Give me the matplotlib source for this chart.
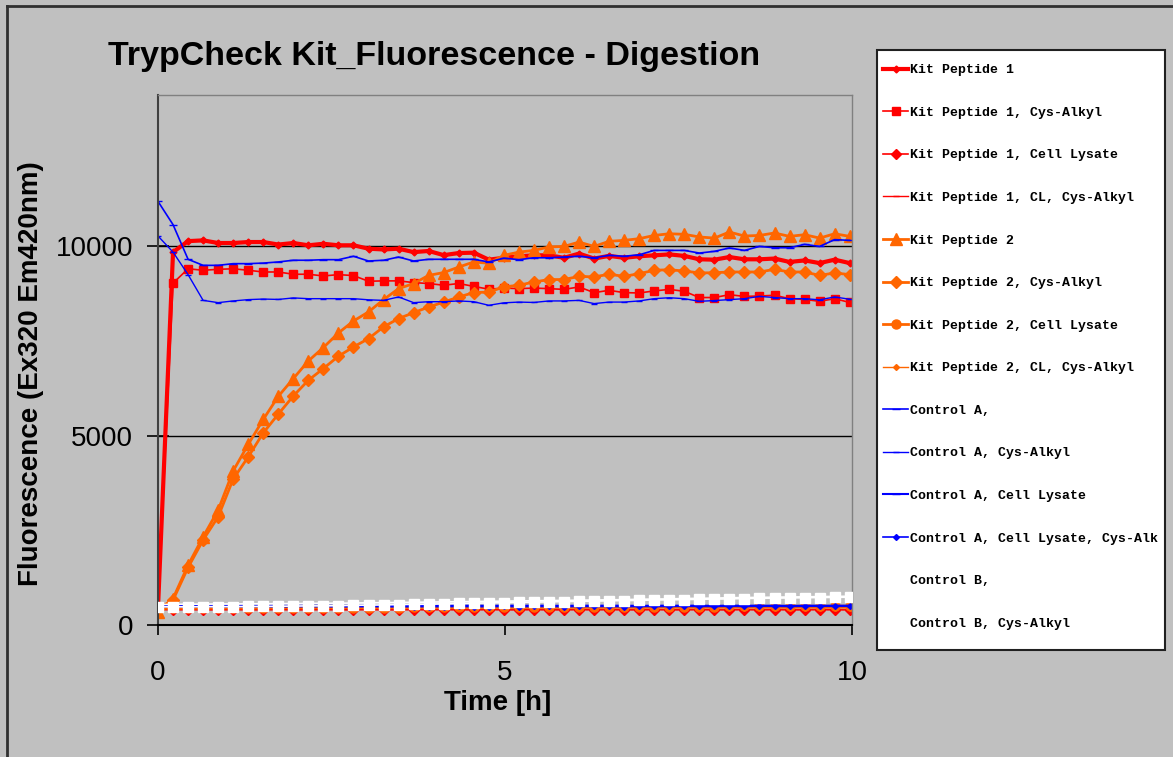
import matplotlib
matplotlib.use('Agg')
import matplotlib.pyplot as plt
from matplotlib.lines import Line2D
from matplotlib.patches import Rectangle
import numpy as np

#------------------------------------- DATOS ------------------------------------
# tiempo de muestreo en minutos (lectura cada ~13 min)
minutos = [0, 13, 26, 39, 52, 65, 78, 91, 104, 117, 130, 143, 156, 169, 182, 195,
           208, 221, 234, 247, 260, 273, 286, 299, 312, 325, 338, 351, 364, 377,
           390, 403, 416, 429, 442, 455, 468, 481, 494, 507, 520, 533, 546, 559,
           572, 585, 598]

kit_p1 = [450, 9850, 10140, 10160, 10090, 10090, 10116, 10116, 10050, 10090, 10030, 10070,
          10030, 10030, 9940, 9920, 9940, 9850, 9880, 9770, 9825, 9835, 9650, 9700, 9740,
          9765, 9765, 9700, 9810, 9680, 9750, 9700, 9740, 9765, 9790, 9750, 9660, 9650,
          9720, 9660, 9660, 9680, 9590, 9630, 9560, 9650, 9560]
kit_p1_cys = [450, 9030, 9410, 9370, 9395, 9410, 9370, 9325, 9325, 9265, 9265, 9220, 9255,
              9230, 9080, 9090, 9090, 9045, 9020, 8975, 9020, 8945, 8870, 8900, 8885, 8900,
              8885, 8865, 8930, 8780, 8840, 8780, 8770, 8825, 8865, 8815, 8650, 8650, 8725,
              8680, 8690, 8710, 8620, 8600, 8550, 8620, 8520]
kit_p1_cl = [410, 400, 405, 400, 400, 405, 400, 400, 405, 400, 400, 405, 400, 400, 405, 400,
             400, 405, 400, 405, 400, 400, 405, 400, 400, 405, 400, 400, 405, 400, 405, 400,
             400, 405, 400, 400, 405, 400, 400, 405, 400, 405, 400, 400, 405, 400, 400]
kit_p1_cl_cys = [460, 465, 460, 465, 465, 460, 465, 465, 460, 465, 465, 460, 465, 465, 460,
                 465, 465, 460, 465, 465, 460, 465, 465, 460, 465, 465, 460, 465, 465, 460,
                 465, 465, 460, 465, 465, 460, 465, 465, 460, 465, 465, 460, 465, 465, 460,
                 465, 465]
kit_p2 = [350, 700, 1580, 2330, 3035, 4070, 4770, 5430, 6040, 6510, 6975, 7330, 7715, 8030,
          8270, 8595, 8885, 9020, 9235, 9310, 9455, 9590, 9555, 9765, 9850, 9895, 9985, 10000,
          10115, 10000, 10135, 10160, 10205, 10290, 10335, 10320, 10250, 10220, 10380, 10275,
          10290, 10355, 10265, 10310, 10220, 10335, 10265]
kit_p2_cys = [430, 660, 1520, 2245, 2860, 3855, 4440, 5075, 5570, 6050, 6465, 6775, 7100,
              7345, 7565, 7875, 8095, 8250, 8400, 8530, 8665, 8780, 8795, 8930, 8975, 9060,
              9125, 9125, 9210, 9195, 9265, 9210, 9280, 9370, 9385, 9350, 9300, 9305, 9325,
              9325, 9325, 9395, 9325, 9325, 9235, 9300, 9255]
kit_p2_cl = [440, 445, 445, 445, 450, 450, 450, 450, 455, 455, 455, 455, 460, 460, 460, 460,
             460, 465, 465, 465, 465, 470, 470, 470, 470, 470, 475, 475, 475, 475, 480, 480,
             480, 480, 485, 485, 485, 485, 490, 490, 490, 490, 495, 495, 495, 495, 500]
kit_p2_cl_cys = [450, 455, 450, 455, 455, 450, 455, 450, 455, 455, 450, 455, 450, 455, 455,
                 450, 455, 450, 455, 455, 450, 455, 450, 455, 455, 450, 455, 450, 455, 455,
                 450, 455, 450, 455, 455, 450, 455, 450, 455, 455, 450, 455, 450, 455, 455,
                 450, 455]
ctrl_a = [11190, 10575, 9660, 9500, 9500, 9545, 9545, 9560, 9590, 9635, 9635, 9650, 9650,
          9740, 9615, 9635, 9720, 9615, 9660, 9660, 9660, 9660, 9590, 9690, 9650, 9700, 9700,
          9720, 9740, 9700, 9765, 9740, 9780, 9895, 9895, 9895, 9825, 9870, 9960, 9895, 10000,
          9965, 9965, 10055, 10000, 10180, 10160]
ctrl_a_cys = [10275, 9850, 9255, 8575, 8515, 8560, 8595, 8610, 8600, 8640, 8620, 8620, 8620,
              8620, 8590, 8575, 8665, 8515, 8540, 8540, 8560, 8540, 8445, 8510, 8530, 8520,
              8560, 8560, 8575, 8490, 8530, 8530, 8560, 8620, 8645, 8620, 8550, 8570, 8595,
              8620, 8680, 8650, 8620, 8620, 8590, 8665, 8605]
ctrl_a_cl = [500, 505, 505, 510, 505, 510, 510, 505, 510, 510, 510, 510, 505, 510, 510, 510,
             510, 505, 510, 510, 510, 510, 505, 510, 510, 510, 510, 505, 510, 510, 510, 510,
             505, 510, 510, 510, 510, 505, 510, 510, 510, 510, 505, 510, 510, 510, 510]
ctrl_a_cl_cys = [480, 485, 480, 485, 485, 480, 485, 485, 480, 485, 485, 485, 480, 485, 485,
                 485, 480, 485, 485, 485, 490, 485, 485, 490, 485, 490, 490, 485, 490, 490,
                 490, 485, 490, 490, 490, 495, 490, 490, 495, 490, 495, 495, 490, 495, 495,
                 495, 495]
ctrl_b = [480, 480, 480, 485, 485, 485, 490, 490, 495, 500, 505, 505, 510, 520, 525, 530, 540,
          545, 550, 560, 570, 575, 585, 590, 600, 605, 610, 620, 625, 630, 640, 645, 650, 660,
          665, 670, 680, 685, 690, 700, 705, 710, 715, 720, 725, 730, 735]
ctrl_b_cys = [540, 545, 550, 550, 555, 555, 560, 560, 565, 565, 570, 575, 575, 580, 585, 590,
              595, 600, 605, 610, 615, 620, 625, 630, 635, 640, 645, 650, 655, 660, 665, 670,
              680, 685, 690, 700, 705, 710, 720, 725, 730, 735, 740, 745, 750, 755, 760]

horas = np.array(minutos) / 60.0

ROJO = '#ff0000'
NARANJA = '#ff6600'
AZUL = '#0000ff'
GRIS = '#c0c0c0'

# (etiqueta, datos, color, grosor, marcador, tamaño, zorder)
series = [
    ('Kit Peptide 1', kit_p1, ROJO, 3.0, 'D', 3.5, 2),
    ('Kit Peptide 1, Cys-Alkyl', kit_p1_cys, ROJO, 1.2, 's', 6, 2),
    ('Kit Peptide 1, Cell Lysate', kit_p1_cl, ROJO, 1.2, 'D', 5, 2),
    ('Kit Peptide 1, CL, Cys-Alkyl', kit_p1_cl_cys, ROJO, 1.0, '_', 4, 2),
    ('Kit Peptide 2', kit_p2, NARANJA, 2.0, '^', 8, 2),
    ('Kit Peptide 2, Cys-Alkyl', kit_p2_cys, NARANJA, 2.0, 'D', 6, 2),
    ('Kit Peptide 2, Cell Lysate', kit_p2_cl, NARANJA, 2.0, 'o', 6.5, 2),
    ('Kit Peptide 2, CL, Cys-Alkyl', kit_p2_cl_cys, NARANJA, 1.0, 'D', 3, 2),
    ('Control A,', ctrl_a, AZUL, 1.2, '_', 6, 2),
    ('Control A, Cys-Alkyl', ctrl_a_cys, AZUL, 1.0, '_', 4, 2),
    ('Control A, Cell Lysate', ctrl_a_cl, AZUL, 1.5, '_', 6, 2),
    ('Control A, Cell Lysate, Cys-Alk', ctrl_a_cl_cys, AZUL, 1.2, 'D', 3, 2),
    ('Control B,', ctrl_b, 'white', 1.2, 's', 6.5, 4),
    ('Control B, Cys-Alkyl', ctrl_b_cys, 'white', 1.2, 'None', 0, 3),
]

#------------------------------------- FIGURA ------------------------------------
plt.rcParams['font.family'] = ['Liberation Sans', 'DejaVu Sans']

fig = plt.figure(figsize=(11.73, 7.57), dpi=100, facecolor=GRIS)
ax = fig.add_axes([158/1173, 1 - 625/757, 694/1173, 530/757])
ax.set_facecolor(GRIS)

lineas = []
for etiqueta, datos, color, lw, marcador, ms, z in series:
    l, = ax.plot(horas, datos, color=color, lw=lw, marker=marcador, ms=ms,
                 mfc=color, mec=color, label=etiqueta, zorder=z)
    lineas.append(l)

ax.set_xlim(0, 10)
ax.set_ylim(0, 14000)
ax.set_xticks([0, 5, 10])
ax.set_yticks([0, 5000, 10000])
ax.grid(axis='y', color='black', lw=1.0)
ax.set_axisbelow(True)

ax.tick_params(axis='y', direction='inout', length=16, width=1.2, pad=10,
               labelsize=20, colors='black')
ax.tick_params(axis='x', direction='out', length=7, width=1.2, pad=18,
               labelsize=20, colors='black')

for lado in ['top', 'right']:
    ax.spines[lado].set_color('#808080')
    ax.spines[lado].set_linewidth(1.0)
ax.spines['left'].set_color('#404040')
ax.spines['left'].set_linewidth(1.5)
ax.spines['bottom'].set_color('black')
ax.spines['bottom'].set_linewidth(1.5)

ax.set_xlabel('Time [h]', fontsize=20, fontweight='bold', labelpad=0)
ax.set_ylabel('Fluorescence (Ex320 Em420nm)', fontsize=20, fontweight='bold')
ax.yaxis.set_label_coords(-114/694, 0.475)
ax.xaxis.set_label_coords(0.49, -65/530)

fig.text(434/1173, 1 - 57/757, 'TrypCheck Kit_Fluorescence - Digestion',
         ha='center', va='center', fontsize=24.5, fontweight='bold')

# marco exterior (solo izquierda y arriba visibles en el recorte)
fig.add_artist(Line2D([7/1173, 7/1173], [0, 1 - 6/757], color='#303030', lw=2,
                      transform=fig.transFigure))
fig.add_artist(Line2D([7/1173, 1], [1 - 6/757, 1 - 6/757], color='#303030', lw=2,
                      transform=fig.transFigure))

# caja de la leyenda
fig.add_artist(Rectangle((877/1173, 1 - 650/757), 288/1173, 600/757,
                         transform=fig.transFigure, facecolor='white',
                         edgecolor='#202020', lw=1.5, zorder=1))

leg = fig.legend(handles=lineas, loc='upper left', bbox_to_anchor=(883/1173, 1 - 64/757),
                 borderaxespad=0, frameon=False, handlelength=1.9,
                 handletextpad=0.15, labelspacing=2.3, borderpad=0,
                 prop={'family': 'Liberation Mono', 'weight': 'bold', 'size': 9.5})
leg.set_zorder(2)

fig.savefig('out.png', dpi=100, facecolor=GRIS)
